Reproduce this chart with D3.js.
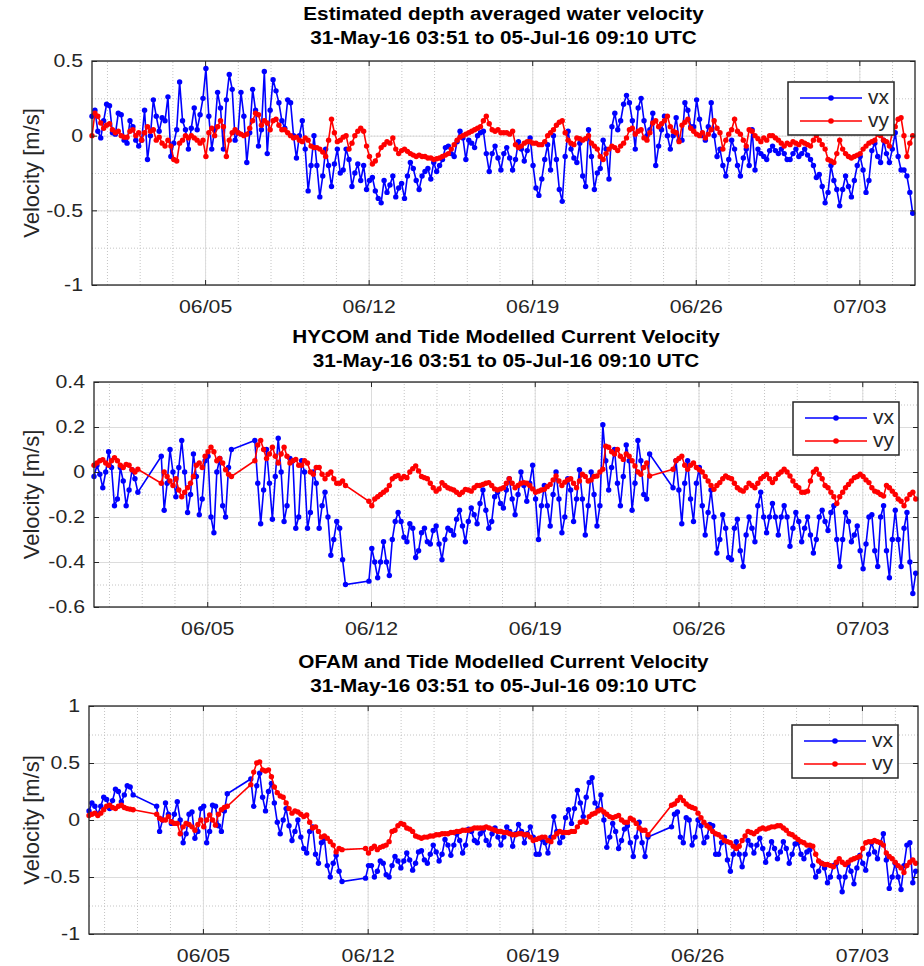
<!DOCTYPE html>
<html>
<head>
<meta charset="utf-8">
<script src="https://cdn.jsdelivr.net/npm/d3@7"></script>
<style>
  body { margin: 0; background: #fff; }
  svg { font-family: "Liberation Sans", Arial, Helvetica, sans-serif; }
  .grid-major line { stroke: #dcdcdc; stroke-width: 1; }
  .grid-minor line { stroke: #c4c4c4; stroke-width: 1; stroke-dasharray: 1 2; }
  .grid-major path, .grid-minor path { display: none; }
  .axis path { display: none; }
  .axis line { stroke: #262626; stroke-width: 1; }
  .axis text { fill: #262626; font-size: 18.5px; }
  .title { font-weight: bold; font-size: 18px; fill: #000; }
</style>
</head>
<body>
<svg id="chart" width="924" height="966"></svg>
<script>
// Samples every 3 h from 31-May-16 03:51 UTC, null = no sample (line bridges the gap)
const startTime = Date.UTC(2016, 4, 31, 3, 51);
const endTime = Date.UTC(2016, 6, 5, 9, 10);
const stepHours = 3;
const dateTicks = ['2016-06-05', '2016-06-12', '2016-06-19', '2016-06-26', '2016-07-03'];
const seriesNames = ['vx', 'vy'];

// Panel 1: glider estimate
const gliderVx = [
  0.13, 0.17, 0.03, -0.015, 0.1, 0.21, 0.2, 0.02, 0.01, 0.15,
  0.14, -0.03, -0.05, 0.1, 0.06, -0.03, -0.07, -0.03, 0.17, -0.16,
  0.0, 0.24, 0.13, 0.03, 0.12, 0.1, 0.26, -0.14, -0.05, 0.04,
  0.36, 0.1, 0.04, -0.09, 0.05, 0.185, 0.04, 0.14, 0.25, 0.45,
  0.13, -0.09, 0.04, 0.29, 0.185, -0.09, 0.24, 0.41, 0.31, -0.03,
  0.02, 0.29, 0.13, -0.18, 0.02, 0.31, 0.17, -0.07, 0.04, 0.43,
  -0.12, 0.17, 0.375, 0.3, 0.22, 0.1, 0.05, 0.24, 0.22, 0.0,
  -0.15, 0.0, 0.1, -0.09, -0.37, -0.2, 0.0, -0.2, -0.41, -0.27,
  -0.09, -0.2, -0.34, -0.19, -0.09, -0.25, -0.23, -0.09, -0.16, -0.34,
  -0.25, -0.19, -0.3, -0.2, -0.36, -0.3, -0.28, -0.37, -0.42, -0.45,
  -0.3, -0.38, -0.33, -0.27, -0.41, -0.35, -0.32, -0.42, -0.27, -0.18,
  -0.22, -0.3, -0.36, -0.27, -0.24, -0.22, -0.29, -0.18, -0.24, -0.2,
  -0.16, -0.08, -0.07, -0.12, -0.14, -0.04, 0.03, -0.015, -0.16, -0.03,
  -0.05, -0.08, 0.0, 0.02, 0.03, -0.12, -0.24, -0.12, -0.07, -0.15,
  -0.23, -0.12, -0.08, -0.15, -0.23, -0.16, -0.04, -0.09, -0.17, -0.1,
  -0.015, -0.2, -0.35, -0.4, -0.29, -0.16, -0.06, -0.23, 0.0, -0.16,
  -0.36, -0.44, -0.14, 0.03, -0.09, -0.15, -0.18, -0.05, -0.27, -0.34,
  0.04, -0.14, -0.36, -0.25, -0.22, -0.03, -0.09, -0.29, 0.06, 0.15,
  0.04, 0.1, 0.21, 0.27, 0.22, 0.1, -0.09, 0.185, 0.25, 0.1,
  0.0, 0.04, 0.15, -0.2, -0.07, 0.04, 0.13, 0.0, -0.09, 0.0,
  0.12, -0.03, -0.03, 0.22, 0.17, 0.06, 0.06, 0.24, 0.11, 0.0,
  -0.03, 0.06, 0.22, 0.0, -0.14, -0.09, -0.2, -0.27, -0.16, -0.03,
  -0.09, -0.2, -0.27, -0.15, -0.09, -0.2, 0.04, -0.23, -0.09, -0.12,
  -0.14, -0.16, -0.1, -0.07, -0.1, -0.12, -0.09, -0.12, -0.16, -0.16,
  -0.12, -0.09, -0.14, -0.12, -0.09, -0.13, -0.16, -0.2, -0.28, -0.26,
  -0.34, -0.45, -0.38, -0.2, -0.3, -0.36, -0.47, -0.36, -0.27, -0.34,
  -0.41, -0.3, -0.2, -0.14, -0.23, -0.38, -0.3, -0.1, -0.05, -0.14,
  -0.18, -0.03, -0.12, -0.18, -0.09, 0.02, -0.14, -0.23, -0.23, -0.27,
  -0.38, -0.52
];
const gliderVy = [
  0.0, 0.15, 0.13, 0.085, 0.05, 0.07, 0.08, 0.04, 0.02, 0.03,
  0.0, -0.01, -0.01, 0.03, 0.04, 0.0, 0.02, -0.03, 0.02, 0.06,
  0.03, 0.04, -0.03, -0.01, -0.05, -0.07, -0.03, -0.07, -0.16, -0.17,
  -0.05, -0.03, 0.0, -0.015, 0.0, -0.015, -0.03, -0.05, -0.03, -0.14,
  0.02, 0.05, 0.0, 0.06, 0.1, 0.06, -0.14, -0.03, 0.02, 0.04,
  0.02, 0.01, 0.0, 0.01, 0.05, 0.1, 0.15, 0.14, 0.07, 0.1,
  0.085, 0.04, 0.1, 0.11, 0.07, 0.04, 0.04, 0.02, 0.0, -0.015,
  -0.01, -0.03, -0.04, -0.015, -0.03, -0.07, -0.08, -0.08, -0.09, -0.11,
  -0.14, -0.03, 0.11, 0.02, -0.04, -0.03, -0.01, 0.0, -0.09, -0.05,
  0.0, 0.03, 0.05, 0.03, -0.07, -0.14, -0.19, -0.17, -0.13, -0.08,
  -0.06, -0.04, -0.05, -0.015, -0.09, -0.12, -0.1, -0.09, -0.105, -0.12,
  -0.13, -0.14, -0.13, -0.14, -0.14, -0.15, -0.15, -0.16, -0.155, -0.15,
  -0.14, -0.13, -0.12, -0.09, -0.06, -0.03, -0.01, 0.0, 0.01, 0.02,
  0.03, 0.04, 0.05, 0.06, 0.1, 0.13, 0.08, 0.04, 0.03, 0.04,
  0.02, 0.02, 0.02, 0.01, 0.03, -0.06, -0.08, -0.07, -0.05, -0.04,
  -0.04, -0.05, -0.05, -0.06, -0.06, -0.04, 0.0, 0.02, 0.04, 0.07,
  0.09, 0.1, 0.02, -0.03, -0.05, -0.06, -0.015, -0.02, -0.03, -0.02,
  0.0, -0.05, -0.07, -0.09, -0.14, -0.16, -0.12, -0.09, -0.07, -0.08,
  -0.1, -0.07, -0.05, -0.015, 0.04, 0.05, 0.01, 0.03, 0.04, -0.015,
  -0.03, 0.02, 0.085, 0.1, 0.06, 0.08, 0.1, 0.13, 0.06, 0.03,
  0.02, -0.04, 0.07, 0.09, 0.11, 0.05, 0.03, 0.01, 0.0, 0.02,
  -0.015, 0.01, 0.04, 0.1, 0.05, 0.02, -0.09, -0.03, 0.01, 0.04,
  0.11, 0.03, 0.01, -0.03, -0.07, 0.04, 0.03, 0.0, -0.02, -0.04,
  -0.015, -0.03, 0.0, 0.0, -0.015, -0.03, -0.05, -0.07, -0.05, -0.06,
  -0.04, -0.05, -0.06, -0.04, -0.05, -0.06, -0.07, -0.03, 0.0, -0.03,
  -0.06, -0.09, -0.16, -0.17, -0.18, -0.12, -0.03, -0.09, -0.12, -0.14,
  -0.15, -0.14, -0.13, -0.12, -0.09, -0.07, -0.05, -0.04, -0.03, 0.01,
  0.0, -0.03, -0.04, -0.07, 0.02, 0.06, 0.11, 0.12, 0.0, -0.14,
  -0.05, 0.0
];

// Panel 2: HYCOM + tide model
const hycomVx = [
  -0.02, 0.03, -0.01, -0.07, 0.0, 0.09, 0.02, -0.15, -0.12, 0.02,
  -0.04, -0.15, -0.08, 0.01, -0.03, -0.09, null, null, null, null,
  null, null, null, 0.07, -0.17, -0.05, 0.10, 0.0, -0.11, 0.02,
  0.14, 0.0, -0.18, -0.10, 0.08, -0.02, -0.19, -0.12, 0.05, 0.07,
  -0.2, -0.27, 0.0, 0.06, -0.15, -0.2, 0.02, 0.10, null, null,
  null, null, null, null, null, 0.14, -0.05, -0.23, -0.08, 0.10,
  -0.05, -0.21, -0.02, 0.15, 0.0, -0.22, -0.15, 0.06, 0.05, -0.25,
  -0.2, 0.05, 0.0, -0.25, -0.18, 0.0, -0.05, -0.25, -0.15, -0.09,
  -0.2, -0.37, -0.3, -0.22, -0.25, -0.39, -0.50, null, null, null,
  null, null, null, null, -0.485, -0.34, -0.40, -0.47, -0.40, -0.31,
  -0.40, -0.46, -0.30, -0.22, -0.18, -0.22, -0.29, -0.31, -0.23, -0.25,
  -0.38, -0.35, -0.27, -0.25, -0.31, -0.32, -0.26, -0.24, -0.32, -0.39,
  -0.30, -0.25, -0.26, -0.28, -0.21, -0.17, -0.24, -0.31, -0.22, -0.16,
  -0.19, -0.23, -0.14, -0.08, -0.17, -0.25, -0.22, -0.11, -0.09, -0.14,
  -0.16, -0.08, -0.03, -0.12, -0.19, -0.10, 0.0, -0.06, -0.13, -0.05,
  0.03, -0.12, -0.30, -0.15, -0.06, -0.15, -0.24, -0.10, 0.0, -0.12,
  -0.27, -0.2, -0.03, -0.08, -0.22, -0.12, 0.01, -0.12, -0.28, -0.15,
  0.0, -0.10, -0.24, -0.15, 0.21, 0.05, -0.08, 0.02, 0.10, -0.05,
  -0.15, -0.02, 0.12, 0.05, -0.17, -0.05, 0.14, 0.05, -0.10, -0.12,
  0.08, null, null, null, null, null, null, null, -0.07, 0.05,
  -0.08, -0.23, -0.05, 0.05, -0.12, -0.22, -0.05, 0.02, -0.15, -0.28,
  -0.18, -0.08, -0.2, -0.36, -0.30, -0.19, -0.25, -0.38, -0.39, -0.25,
  -0.21, -0.35, -0.42, -0.28, -0.2, -0.25, -0.31, -0.15, -0.09, -0.2,
  -0.27, -0.2, -0.14, -0.2, -0.28, -0.2, -0.15, -0.2, -0.33, -0.25,
  -0.18, -0.22, -0.31, -0.25, -0.2, -0.28, -0.36, -0.3, -0.2, -0.17,
  -0.22, -0.26, -0.18, -0.15, -0.3, -0.42, -0.3, -0.18, -0.22, -0.31,
  -0.28, -0.24, -0.35, -0.43, -0.32, -0.2, -0.19, -0.35, -0.42, -0.2,
  -0.15, -0.35, -0.47, -0.3, -0.17, -0.3, -0.42, -0.25, -0.18, -0.4,
  -0.54, -0.45
];
const hycomVy = [
  0.03, 0.04, 0.05, 0.055, 0.04, 0.03, 0.05, 0.064, 0.05, 0.03,
  0.02, 0.034, 0.03, 0.01, 0.0, 0.012, null, null, null, null,
  null, null, null, -0.05, 0.0, -0.02, -0.04, -0.06, -0.03, -0.08,
  -0.11, -0.09, -0.07, -0.05, -0.02, 0.03, 0.04, 0.02, 0.07, 0.09,
  0.11, 0.09, 0.05, 0.06, 0.04, 0.01, -0.01, -0.02, null, null,
  null, null, null, null, null, 0.05, 0.12, 0.14, 0.10, 0.06,
  0.08, 0.11, 0.07, 0.04, 0.08, 0.11, 0.07, 0.04, 0.05, 0.056,
  0.03, 0.03, 0.05, 0.04, 0.0, -0.01, 0.02, 0.02, -0.01, -0.03,
  -0.01, 0.0, -0.03, -0.05, -0.05, -0.04, -0.06, null, null, null,
  null, null, null, null, -0.13, -0.15, -0.12, -0.11, -0.1, -0.09,
  -0.08, -0.06, -0.03, -0.02, -0.015, -0.03, -0.02, -0.025, 0.0, 0.015,
  0.027, 0.005, -0.02, -0.025, -0.03, -0.05, -0.07, -0.085, -0.075, -0.047,
  -0.06, -0.07, -0.075, -0.08, -0.09, -0.1, -0.09, -0.077, -0.08, -0.085,
  -0.07, -0.06, -0.06, -0.055, -0.05, -0.047, -0.06, -0.075, -0.08, -0.075,
  -0.07, -0.05, -0.03, -0.05, -0.07, -0.06, -0.05, -0.047, -0.05, -0.06,
  -0.075, -0.09, -0.085, -0.08, -0.077, -0.065, -0.055, -0.035, -0.018, -0.04,
  -0.06, -0.045, -0.035, -0.03, -0.05, -0.07, -0.04, -0.01, -0.02, -0.04,
  -0.035, -0.02, -0.018, 0.0, 0.012, 0.115, 0.11, 0.09, 0.08, 0.1,
  0.07, 0.056, 0.08, 0.07, 0.05, 0.027, 0.0, -0.01, 0.02, 0.04,
  -0.018, null, null, null, null, null, null, null, 0.012, 0.05,
  0.06, 0.07, 0.03, 0.012, 0.03, 0.04, 0.02, 0.01, 0.0, -0.02,
  -0.04, -0.06, -0.077, -0.06, -0.047, -0.03, -0.018, -0.025, -0.03, -0.05,
  -0.07, -0.08, -0.085, -0.07, -0.05, -0.06, -0.07, -0.05, -0.03, -0.02,
  -0.01, -0.03, -0.047, -0.03, -0.01, 0.0, 0.012, 0.0, -0.018, -0.04,
  -0.06, -0.07, -0.09, -0.09, -0.085, -0.04, 0.0, 0.012, -0.01, -0.03,
  -0.06, -0.07, -0.09, -0.11, -0.14, -0.11, -0.09, -0.07, -0.055, -0.04,
  -0.025, -0.02, -0.01, -0.02, -0.035, -0.047, -0.07, -0.085, -0.09, -0.1,
  -0.107, -0.06, -0.07, -0.085, -0.1, -0.12, -0.13, -0.15, -0.12, -0.1,
  -0.09, -0.12
];

// Panel 3: OFAM + tide model
const ofamVx = [
  0.08, 0.15, 0.12, 0.05, 0.12, 0.2, 0.18, 0.1, 0.17, 0.27,
  0.25, 0.16, 0.22, 0.3, 0.29, 0.22, null, null, null, null,
  null, null, null, 0.12, -0.1, 0.0, 0.15, 0.05, -0.03, 0.05,
  0.16, 0.0, -0.2, -0.12, 0.05, 0.07, -0.16, -0.1, 0.1, 0.12,
  -0.2, -0.1, 0.13, 0.12, -0.05, -0.10, 0.08, 0.23, null, null,
  null, null, null, null, null, 0.36, 0.12, 0.3, 0.41, 0.2,
  0.08, 0.25, 0.32, 0.15, -0.02, -0.12, 0.0, 0.1, -0.05, -0.18,
  -0.1, 0.0, -0.15, -0.25, -0.29, -0.1, -0.06, -0.3, -0.38, -0.2,
  -0.16, -0.4, -0.5, -0.38, -0.31, -0.45, -0.54, null, null, null,
  null, null, null, null, -0.51, -0.4, -0.4, -0.5, -0.45, -0.36,
  -0.38, -0.48, -0.5, -0.4, -0.32, -0.36, -0.42, -0.36, -0.29, -0.35,
  -0.44, -0.38, -0.28, -0.27, -0.35, -0.38, -0.3, -0.22, -0.28, -0.36,
  -0.3, -0.17, -0.22, -0.31, -0.22, -0.12, -0.18, -0.29, -0.22, -0.08,
  -0.1, -0.18, -0.2, -0.12, -0.09, -0.18, -0.22, -0.12, -0.07, -0.15,
  -0.22, -0.15, -0.06, -0.1, -0.23, -0.12, -0.04, -0.1, -0.2, -0.12,
  -0.06, -0.15, -0.3, -0.3, -0.17, -0.2, -0.29, -0.15, 0.03, -0.1,
  -0.2, -0.15, 0.02, 0.09, -0.03, 0.1, 0.26, 0.15, 0.03, 0.2,
  0.33, 0.37, 0.15, 0.1, 0.22, 0.0, -0.24, -0.15, -0.03, -0.1,
  -0.25, -0.18, -0.08, -0.05, -0.2, -0.32, -0.15, -0.02, -0.2, -0.32,
  -0.15, null, null, null, null, null, null, null, -0.06, 0.05,
  0.07, -0.15, -0.2, 0.02, 0.0, -0.22, -0.15, 0.0, -0.05, -0.2,
  -0.15, -0.04, -0.05, -0.3, -0.3, -0.2, -0.15, -0.35, -0.45, -0.3,
  -0.19, -0.3, -0.41, -0.3, -0.18, -0.22, -0.29, -0.22, -0.16, -0.25,
  -0.37, -0.3, -0.19, -0.25, -0.34, -0.28, -0.19, -0.25, -0.38, -0.3,
  -0.21, -0.2, -0.3, -0.34, -0.28, -0.26, -0.4, -0.5, -0.45, -0.38,
  -0.42, -0.55, -0.5, -0.4, -0.38, -0.5, -0.63, -0.5, -0.39, -0.45,
  -0.56, -0.42, -0.31, -0.38, -0.44, -0.3, -0.2, -0.28, -0.34, -0.2,
  -0.12, -0.35, -0.6, -0.5, -0.38, -0.5, -0.61, -0.4, -0.22, -0.2,
  -0.55, -0.45
];
const ofamVy = [
  0.04, 0.05, 0.06, 0.04, 0.06, 0.09, 0.12, 0.13, 0.11, 0.10,
  0.12, 0.13, 0.11, 0.10, 0.095, 0.09, null, null, null, null,
  null, null, null, 0.05, 0.015, 0.0, 0.0, 0.03, -0.015, -0.03,
  -0.03, -0.12, -0.06, -0.03, -0.04, -0.06, -0.09, -0.04, 0.0, -0.06,
  0.0, 0.044, 0.0, -0.045, 0.05, 0.09, 0.11, 0.12, null, null,
  null, null, null, null, null, 0.31, 0.42, 0.5, 0.51, 0.44,
  0.43, 0.44, 0.38, 0.29, 0.24, 0.21, 0.2, 0.15, 0.1, 0.06,
  0.08, 0.07, 0.05, 0.03, 0.044, -0.02, -0.07, -0.06, -0.1, -0.15,
  -0.14, -0.16, -0.19, -0.22, -0.28, -0.25, -0.26, null, null, null,
  null, null, null, null, -0.25, -0.29, -0.25, -0.23, -0.26, -0.24,
  -0.23, -0.22, -0.19, -0.1, -0.09, -0.05, -0.03, -0.04, -0.07, -0.08,
  -0.1, -0.14, -0.15, -0.16, -0.15, -0.15, -0.14, -0.14, -0.13, -0.13,
  -0.12, -0.12, -0.12, -0.11, -0.11, -0.1, -0.1, -0.09, -0.09, -0.09,
  -0.08, -0.07, -0.07, -0.07, -0.07, -0.06, -0.07, -0.08, -0.09, -0.1,
  -0.1, -0.11, -0.11, -0.12, -0.13, -0.13, -0.12, -0.12, -0.13, -0.13,
  -0.15, -0.18, -0.17, -0.16, -0.15, -0.15, -0.18, -0.19, -0.15, -0.12,
  -0.1, -0.11, -0.11, -0.11, -0.1, -0.1, -0.06, -0.02, -0.01, -0.02,
  0.03, 0.05, 0.06, 0.08, 0.09, 0.07, 0.05, 0.03, 0.02, 0.03,
  0.04, 0.0, -0.02, -0.02, 0.015, 0.0, -0.03, -0.07, -0.09, -0.09,
  -0.13, null, null, null, null, null, null, null, 0.13, 0.14,
  0.17, 0.2, 0.17, 0.14, 0.12, 0.11, 0.1, 0.06, 0.02, -0.02,
  -0.05, -0.07, -0.1, -0.12, -0.13, -0.15, -0.18, -0.19, -0.2, -0.23,
  -0.25, -0.23, -0.18, -0.14, -0.1, -0.11, -0.12, -0.1, -0.08, -0.07,
  -0.08, -0.07, -0.06, -0.06, -0.05, -0.05, -0.07, -0.09, -0.12, -0.13,
  -0.15, -0.17, -0.19, -0.2, -0.22, -0.22, -0.23, -0.3, -0.36, -0.38,
  -0.39, -0.39, -0.4, -0.41, -0.37, -0.34, -0.37, -0.39, -0.37, -0.35,
  -0.34, -0.33, -0.32, -0.25, -0.2, -0.19, -0.19, -0.18, -0.19, -0.2,
  -0.22, -0.29, -0.32, -0.34, -0.37, -0.4, -0.42, -0.46, -0.4, -0.37,
  -0.35, -0.38
];

const subtitle = '31-May-16 03:51 to 05-Jul-16 09:10 UTC';
const panels = [
  { title: 'Estimated depth averaged water velocity', vx: gliderVx, vy: gliderVy,
    yDomain: [-1, 0.5], yTicks: [-1, -0.5, 0, 0.5], yStep: 0.25,
    left: 92, right: 915, top: 61, bottom: 285, titleY: 20, legendY: 82, legendX: 788 },
  { title: 'HYCOM and Tide Modelled Current Velocity', vx: hycomVx, vy: hycomVy,
    yDomain: [-0.6, 0.4], yTicks: [-0.6, -0.4, -0.2, 0, 0.2, 0.4], yStep: 0.1,
    left: 94, right: 918, top: 382, bottom: 607, titleY: 343, legendY: 402, legendX: 793 },
  { title: 'OFAM and Tide Modelled Current Velocity', vx: ofamVx, vy: ofamVy,
    yDomain: [-1, 1], yTicks: [-1, -0.5, 0, 0.5, 1], yStep: 0.25,
    left: 89, right: 918, top: 706, bottom: 934, titleY: 668, legendY: 725, legendX: 792 }
];

const colors = { vx: '#0000ff', vy: '#ff0000' };
const textStretch = 1.15;   // source figure text is wider than Liberation Sans
const svg = d3.select('#chart');
const parseDay = d3.utcParse('%Y-%m-%d');
const majorDates = dateTicks.map(parseDay);
const dayMs = 86400000;

// minor x ticks every 1.4 days, anchored on the major ticks
const minorDates = [];
for (let t = majorDates[0].getTime() - 3 * 1.4 * dayMs; t <= endTime; t += 1.4 * dayMs) {
  if (t >= startTime) minorDates.push(new Date(t));
}

function stretch(sel) {
  sel.each(function () {
    const len = this.getComputedTextLength();
    d3.select(this).attr('textLength', len * textStretch).attr('lengthAdjust', 'spacingAndGlyphs');
  });
}

panels.forEach(p => {
  const w = p.right - p.left;
  const h = p.bottom - p.top;
  const x = d3.scaleUtc().domain([new Date(startTime), new Date(endTime)]).range([p.left, p.right]);
  const y = d3.scaleLinear().domain(p.yDomain).range([p.bottom, p.top]);
  const yMinor = d3.range(p.yDomain[0], p.yDomain[1] + 1e-9, p.yStep);

  // titles
  svg.append('text').attr('class', 'title')
    .attr('x', (p.left + p.right) / 2).attr('y', p.titleY)
    .attr('text-anchor', 'middle').text(p.title).call(stretch);
  svg.append('text').attr('class', 'title')
    .attr('x', (p.left + p.right) / 2).attr('y', p.titleY + 24)
    .attr('text-anchor', 'middle').text(subtitle).call(stretch);

  // minor grid
  svg.append('g').attr('class', 'grid-minor')
    .attr('transform', `translate(0,${p.bottom})`)
    .call(d3.axisBottom(x).tickValues(minorDates).tickSize(-h).tickFormat(''));
  svg.append('g').attr('class', 'grid-minor')
    .attr('transform', `translate(${p.left},0)`)
    .call(d3.axisLeft(y).tickValues(yMinor).tickSize(-w).tickFormat(''));

  // major grid
  svg.append('g').attr('class', 'grid-major')
    .attr('transform', `translate(0,${p.bottom})`)
    .call(d3.axisBottom(x).tickValues(majorDates).tickSize(-h).tickFormat(''));
  svg.append('g').attr('class', 'grid-major')
    .attr('transform', `translate(${p.left},0)`)
    .call(d3.axisLeft(y).tickValues(p.yTicks).tickSize(-w).tickFormat(''));

  // series: vx first, vy on top
  const plot = svg.append('g');
  seriesNames.forEach(name => {
    const pts = p[name]
      .map((v, i) => ({ t: new Date(startTime + i * stepHours * 3600000), v }))
      .filter(d => d.v !== null);
    plot.append('path')
      .datum(pts)
      .attr('fill', 'none')
      .attr('stroke', colors[name])
      .attr('stroke-width', 1.6)
      .attr('d', d3.line().x(d => x(d.t)).y(d => y(d.v)));
    plot.selectAll(null)
      .data(pts)
      .enter()
      .append('circle')
      .attr('cx', d => x(d.t))
      .attr('cy', d => y(d.v))
      .attr('r', 2.7)
      .attr('fill', colors[name]);
  });

  // axes with inward ticks
  svg.append('g').attr('class', 'axis')
    .attr('transform', `translate(0,${p.bottom})`)
    .call(d3.axisBottom(x).tickValues(majorDates).tickSizeInner(-5).tickSizeOuter(0)
      .tickPadding(15).tickFormat(d3.utcFormat('%m/%d')))
    .selectAll('text').call(stretch);
  svg.append('g').attr('class', 'axis')
    .attr('transform', `translate(0,${p.top})`)
    .call(d3.axisTop(x).tickValues(majorDates).tickSizeInner(-5).tickSizeOuter(0).tickFormat(''));
  svg.append('g').attr('class', 'axis')
    .attr('transform', `translate(${p.left},0)`)
    .call(d3.axisLeft(y).tickValues(p.yTicks).tickSizeInner(-5).tickSizeOuter(0)
      .tickPadding(9).tickFormat(d => String(d)))
    .selectAll('text').call(stretch);
  svg.append('g').attr('class', 'axis')
    .attr('transform', `translate(${p.right},0)`)
    .call(d3.axisRight(y).tickValues(p.yTicks).tickSizeInner(-5).tickSizeOuter(0).tickFormat(''));

  // box
  svg.append('rect')
    .attr('x', p.left).attr('y', p.top).attr('width', w).attr('height', h)
    .attr('fill', 'none').attr('stroke', '#262626').attr('stroke-width', 1.3);

  // y label
  svg.append('text')
    .attr('transform', `translate(39,${(p.top + p.bottom) / 2}) rotate(-90)`)
    .attr('text-anchor', 'middle')
    .attr('font-size', 22)
    .attr('fill', '#262626')
    .text('Velocity [m/s]');

  // legend
  const lg = svg.append('g').attr('transform', `translate(${p.legendX},${p.legendY})`);
  lg.append('rect').attr('width', 106).attr('height', 53)
    .attr('fill', '#fff').attr('stroke', '#262626').attr('stroke-width', 1.5);
  seriesNames.forEach((name, i) => {
    const ly = 16 + i * 23;
    lg.append('line').attr('x1', 12).attr('x2', 74).attr('y1', ly).attr('y2', ly)
      .attr('stroke', colors[name]).attr('stroke-width', 1.6);
    lg.append('circle').attr('cx', 43).attr('cy', ly).attr('r', 2.8).attr('fill', colors[name]);
    lg.append('text').attr('x', 80).attr('y', ly + 6)
      .attr('font-size', 21).attr('fill', '#262626').text(name);
  });
});
</script>
</body>
</html>
